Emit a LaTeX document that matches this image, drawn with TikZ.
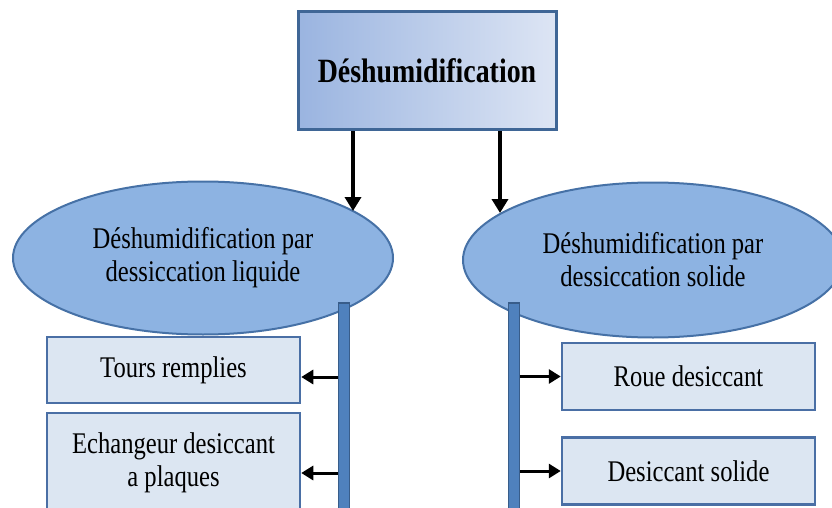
\documentclass[tikz,border=0pt]{standalone}
\usepackage{fontspec}
\setmainfont{Liberation Serif}[FakeStretch=0.82]
\usetikzlibrary{arrows.meta,shapes.geometric,calc}
\definecolor{topleft}{HTML}{9AB4E0}
\definecolor{topright}{HTML}{DDE5F4}
\definecolor{edge}{HTML}{3F6696}
\definecolor{ellfill}{HTML}{8DB3E2}
\definecolor{elledge}{HTML}{4671A6}
\definecolor{boxfill}{HTML}{DCE6F2}
\definecolor{boxedge}{HTML}{4A6FA5}
\definecolor{barfill}{HTML}{4F81BD}
\definecolor{baredge}{HTML}{385D8A}
\tikzset{
  topbox/.style={draw=edge, line width=3pt, left color=topleft, right color=topright,
    minimum width=258pt, minimum height=118pt, inner sep=0pt,
    font=\fontsize{34}{38}\selectfont\bfseries},
  ellbox/.style={ellipse, draw=elledge, line width=2pt, fill=ellfill, inner sep=0pt,
    align=center, font=\fontsize{30}{33}\selectfont},
  leafbox/.style={draw=boxedge, line width=2.5pt, fill=boxfill, inner sep=0pt,
    minimum width=253pt, align=center, font=\fontsize{30}{33}\selectfont},
  barbox/.style={draw=baredge, line width=1.5pt, fill=barfill, inner sep=0pt,
    minimum width=11pt},
  bigarr/.style={line width=4pt, -{Triangle[length=14pt,width=16pt]}},
  smallarr/.style={line width=3pt, -{Triangle[length=12pt,width=14pt]}},
}
\begin{document}
\begin{tikzpicture}[x=1pt,y=-1pt]
\useasboundingbox (0,0) rectangle (832,508);
\clip (0,0) rectangle (832,508);

% root
\node[topbox] (top) at (427,71) {Déshumidification};

% two families
\node[ellbox, minimum width=380pt, minimum height=153pt] (lell) at (203,258)
  {Déshumidification par\\dessiccation liquide};
\node[ellbox, minimum width=380pt, minimum height=155pt] (rell) at (653,260)
  {Déshumidification par\\dessiccation solide};

% arrows from the root to the families
\coordinate (la) at (353,211);
\coordinate (ra) at (500,213);
\draw[bigarr] (la |- top.south) -- (la);
\draw[bigarr] (ra |- top.south) -- (ra);

% vertical bars
\node[barbox, minimum height=220pt] (lbar) at (344,413) {};
\node[barbox, minimum height=220pt] (rbar) at (514,413) {};

% liquid desiccant techniques
\node[leafbox, minimum height=66pt] (t1) at (173.5,370) {Tours remplies};
\node[leafbox, minimum height=100pt] (t2) at (173.5,463) {Echangeur desiccant\\a plaques};

% solid desiccant techniques
\node[leafbox, minimum height=67pt] (s1) at (688.5,376.5) {Roue desiccant};
\node[leafbox, minimum height=67pt] (s2) at (688.5,471) {Desiccant solide};

% branches
\draw[smallarr] ([yshift=-7pt]lbar.west |- t1.east) -- ([yshift=-7pt]t1.east);
\draw[smallarr] ([yshift=-10pt]lbar.west |- t2.east) -- ([yshift=-10pt]t2.east);
\draw[smallarr] (rbar.east |- s1.west) -- (s1.west);
\draw[smallarr] (rbar.east |- s2.west) -- (s2.west);
\end{tikzpicture}
\end{document}
